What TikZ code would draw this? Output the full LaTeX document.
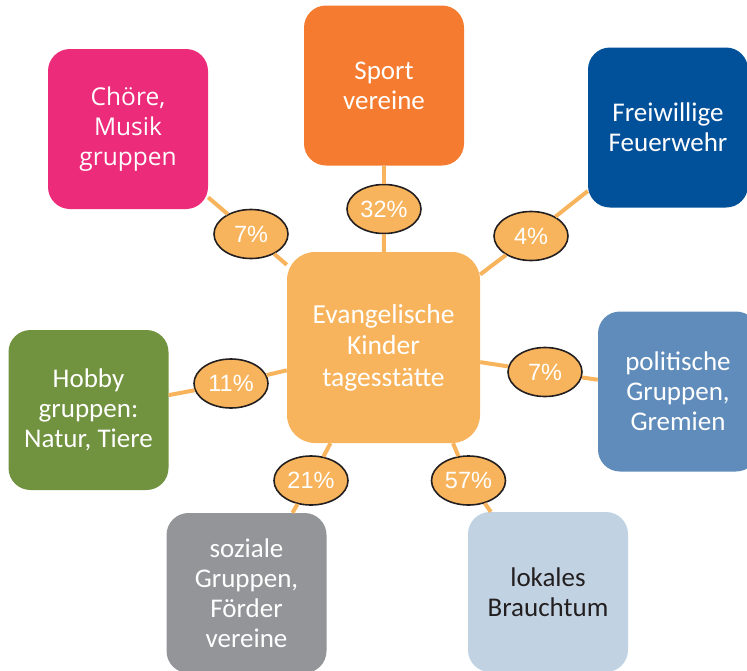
\documentclass[tikz,border=0pt]{standalone}
\usepackage{fontspec}
\usetikzlibrary{shapes.geometric}
\setmainfont{Carlito}
\newfontfamily\pctfont{Liberation Sans}
\newfontfamily\chorfont{Open Sans}
\definecolor{cpink}{HTML}{EC2C7B}
\definecolor{corange}{HTML}{F47B30}
\definecolor{cdblue}{HTML}{00509A}
\definecolor{cgreen}{HTML}{71923F}
\definecolor{cgray}{HTML}{939598}
\definecolor{clblue}{HTML}{C1D3E3}
\definecolor{cpblue}{HTML}{5F8CBA}
\definecolor{ccenter}{HTML}{F8B45C}
\definecolor{cdark}{HTML}{231F20}
\begin{document}
\begin{tikzpicture}[x=1pt,y=-1pt,
  outerbox/.style={rectangle, rounded corners=22pt, minimum width=160pt, minimum height=160pt,
    inner sep=0pt, align=center, text=white, font={\fontsize{27}{30}\selectfont}},
  centerbox/.style={rectangle, rounded corners=28pt, fill=ccenter, minimum width=193pt, minimum height=191pt,
    inner sep=0pt, align=center, text=white, font={\fontsize{27.5}{31.5}\selectfont}},
  pct/.style={ellipse, draw=cdark, line width=1.6pt, fill=ccenter, minimum width=74pt, minimum height=49pt,
    inner sep=0pt, text=white, font={\pctfont\fontsize{23.5}{26}\selectfont}},
  conn/.style={draw=ccenter, line width=4pt}]
\useasboundingbox (0,0) rectangle (747,670);

% boxes
\node[outerbox, fill=cpink, font={\chorfont\fontsize{24.5}{30}\selectfont}] (chor) at (128,129) {Chöre,\\Musik\\gruppen};
\node[outerbox, fill=corange] (sport) at (384,85.5) {Sport\\vereine};
\node[outerbox, fill=cdblue] (feuer) at (668,127.5) {Freiwillige\\Feuerwehr};
\node[outerbox, fill=cgreen] (hobby) at (88.5,410) {Hobby\\gruppen:\\Natur, Tiere};
\node[outerbox, fill=cpblue] (polit) at (678,391.5) {politische\\Gruppen,\\Gremien};
\node[outerbox, fill=cgray] (sozial) at (246.5,593) {soziale\\Gruppen,\\Förder\\vereine};
\node[outerbox, fill=clblue, text=cdark] (lokal) at (548,592) {lokales\\Brauchtum};
\node[centerbox] (center) at (383.5,347.5) {Evangelische\\Kinder\\tagesstätte};

% percentage ellipses
\node[pct] (p1) at (251,234) {7\%};
\node[pct] (p2) at (384,209) {32\%};
\node[pct] (p3) at (531,236) {4\%};
\node[pct] (p4) at (231,383.5) {11\%};
\node[pct] (p5) at (545,372) {7\%};
\node[pct] (p6) at (311,480.5) {21\%};
\node[pct] (p7) at (468.5,480.5) {57\%};

% connectors
\draw[conn] (chor) -- (p1);  \draw[conn] (p1) -- (center);
\draw[conn] (sport) -- (p2); \draw[conn] (p2) -- (center);
\draw[conn] (feuer) -- (p3); \draw[conn] (p3) -- (center);
\draw[conn] (hobby) -- (p4); \draw[conn] (p4) -- (center);
\draw[conn] (polit) -- (p5); \draw[conn] (p5) -- (center);
\draw[conn] (sozial) -- (p6); \draw[conn] (p6) -- (center.-119);
\draw[conn] (lokal) -- (p7); \draw[conn] (p7) -- (center.-54);
\end{tikzpicture}
\end{document}
